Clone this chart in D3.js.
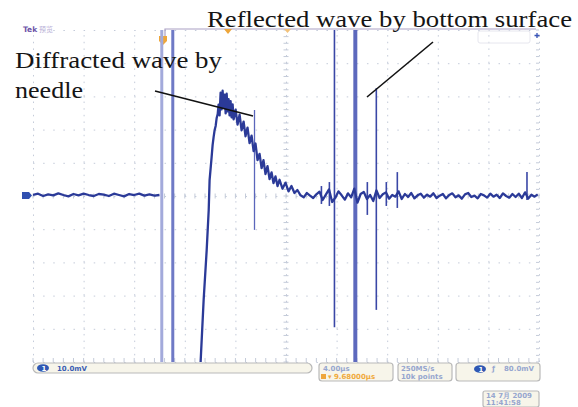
<!DOCTYPE html>
<html>
<head>
<meta charset="utf-8">
<style>
  body { margin: 0; background: #fff; }
  svg { display: block; }
  .grid line { stroke: #c4cbd9; stroke-width: 1; }
  .note { font-family: "Liberation Serif", "Times New Roman", serif; font-size: 23px; fill: #151515; }
  .status text { font-family: "DejaVu Sans", sans-serif; font-size: 7px; font-weight: bold; }
</style>
</head>
<body>
<svg id="scope" width="578" height="407"></svg>
<script src="https://cdn.jsdelivr.net/npm/d3@7"></script>
<script>
// time in microseconds (4.00 us/div), amplitude in mV (10.0 mV/div)
var preTrigger = [[0,0.3],[0.4,0.7],[0.8,0.0],[1.2,0.5],[1.6,0.2],[2.0,0.8],[2.4,0.3],[2.8,-0.1],[3.2,0.6],[3.6,0.2],
  [4.0,0.7],[4.4,0.3],[4.8,0.0],[5.2,0.6],[5.6,0.4],[6.0,0.0],[6.4,0.7],[6.8,0.3],[7.2,-0.1],[7.6,0.6],
  [8.0,0.3],[8.4,0.7],[8.8,0.1],[9.2,0.5],[9.6,0.1],[10.0,0.3]];

var diffracted = [[13.18,-60],[13.25,-50],[13.49,-31.3],[13.73,-16.3],[13.89,-4.2],[13.96,4.8],[14.12,11.7],[14.20,15.4],
  [14.28,17.8],[14.36,19.9],[14.44,21.1],[14.52,23.5],[14.60,24.7],[14.67,27.5],[14.75,24.3],[14.83,31.1],[14.91,26.1],
  [14.99,31.7],[15.07,26.7],[15.15,30.5],[15.23,24.9],[15.31,30.8],[15.38,25.5],[15.46,29.2],[15.54,24.3],[15.62,28.6],
  [15.70,23.7],[15.78,27.6],[15.86,23.1],[16.02,26.0],[16.17,21.5],[16.33,24.5],[16.49,19.8],[16.65,22.4],[16.80,18.0],
  [16.96,20.6],[17.12,15.9],[17.28,18.2],[17.44,13.5],[17.59,15.8],[17.75,10.8],[17.91,12.7],[18.07,8.4],[18.22,10.8],
  [18.38,6.6],[18.54,9.0],[18.70,5.1],[18.86,7.1],[19.01,3.9],[19.17,5.9],[19.33,3.0],[19.49,4.9],[19.72,2.2],[19.96,4.0],
  [20.20,1.4],[20.43,3.0],[20.67,0.9]];

var tail = [[20.90,1.8],[21.15,0.2],[21.40,-0.4],[21.65,0.9],[21.90,0.1],[22.15,-0.6],[22.40,0.5],[22.65,1.3],[22.90,-1.2],
  [23.15,0.4],[23.40,2.0],[23.65,-1.8],[23.90,-0.5],[24.15,1.4],[24.40,0.2],[24.65,-1.1],[24.90,0.8],[25.15,-0.4],
  [25.40,2.2],[25.65,-2.0],[25.90,0.6],[26.15,1.2],[26.40,-0.9],[26.65,0.3],[26.90,-1.5],[27.15,1.7],[27.40,-0.6],
  [27.65,0.5],[27.90,1.1],[28.15,-0.8],[28.40,0.3],[28.65,-0.2],[28.90,1.4],[29.15,-0.9],[29.40,0.6],[29.65,-0.3],
  [29.90,0.9],[30.15,-0.7],[30.40,0.2],[30.65,0.7],[30.90,-0.5],[31.15,0.4],[31.40,-0.2],[31.65,0.8],[31.90,-0.6],
  [32.15,0.1],[32.40,0.6],[32.65,-0.7],[32.90,0.3],[33.15,0.8],[33.40,-0.4],[33.65,0.2],[33.90,-0.8],[34.15,0.5],
  [34.40,0.9],[34.65,-0.3],[34.90,0.1],[35.15,-0.7],[35.40,0.6],[35.65,0.2],[35.90,-0.5],[36.15,0.7],[36.40,-0.2],
  [36.65,0.4],[36.90,-0.6],[37.15,0.8],[37.40,0.0],[37.65,-0.5],[37.90,0.6],[38.15,-0.3],[38.40,0.7],[38.65,-0.6],
  [38.90,1.1],[39.15,-0.8],[39.40,0.4],[39.65,-0.2],[39.90,0.5]];

// spikes: time, top, bottom (mV)
var spikeT  = [10.18, 11.05, 25.48, 17.51, 23.83, 27.14, 22.8, 23.43, 26.43, 27.93, 28.80, 39.05];
var spikeHi = [60, 60, 60, 25.9, 60, 32.5, 3.0, 4.2, 4.2, 4.2, 7.2, 7.2];
var spikeLo = [-60, -60, -60, -10.2, -39.5, -34.3, -2.4, -3.0, -5.7, -3.0, -3.6, -1.2];

var svg = d3.select("#scope");
var x = d3.scaleLinear().domain([0, 40]).range([33, 539]);
var y = d3.scaleLinear().domain([-50, 50]).range([362, 30]);

svg.append("clipPath").attr("id", "screen")
  .append("rect").attr("x", 33).attr("y", 30).attr("width", 506).attr("height", 332);

// graticule
var gx = svg.append("g").attr("class", "grid")
  .attr("transform", "translate(0,362)")
  .call(d3.axisBottom(x).tickValues(d3.range(0, 41, 4)).tickSize(-332).tickFormat(""));
gx.select(".domain").remove();
gx.selectAll("line").attr("stroke-dasharray", "1.5,5.14");

var gy = svg.append("g").attr("class", "grid")
  .attr("transform", "translate(33,0)")
  .call(d3.axisLeft(y).tickValues(d3.range(-50, 51, 10)).tickSize(-506).tickFormat(""));
gy.select(".domain").remove();
gy.selectAll("line").attr("stroke-dasharray", "1.5,8.62");

// minor ticks on centre lines and edges
var minorT = d3.range(0, 40.01, 0.8);
var minorV = d3.range(-50, 50.01, 2);
svg.append("g").attr("class", "grid").selectAll("line").data(minorT).enter().append("line")
  .attr("x1", function(d) { return x(d); }).attr("x2", function(d) { return x(d); })
  .attr("y1", y(0) - 2.5).attr("y2", y(0) + 2.5);
svg.append("g").attr("class", "grid").selectAll("line").data(minorT).enter().append("line")
  .attr("x1", function(d) { return x(d); }).attr("x2", function(d) { return x(d); })
  .attr("y1", 358).attr("y2", 362);
svg.append("g").attr("class", "grid").selectAll("line").data(minorV).enter().append("line")
  .attr("x1", x(20) - 2.5).attr("x2", x(20) + 2.5)
  .attr("y1", function(d) { return y(d); }).attr("y2", function(d) { return y(d); });
svg.append("g").attr("class", "grid").selectAll("line").data(minorV).enter().append("line")
  .attr("x1", x(40) - 3).attr("x2", x(40))
  .attr("y1", function(d) { return y(d); }).attr("y2", function(d) { return y(d); });

// top record bar + markers
svg.append("path").attr("d", "M165,37V29H536").attr("fill", "none").attr("stroke", "#a99fc4").attr("stroke-width", 1.2);
svg.append("path").attr("d", "M159,36h8v5l-4,4l-4,-4z").attr("fill", "#eea63a");
svg.append("path").attr("d", "M224,29h8l-4,5z").attr("fill", "#eea63a");
svg.append("path").attr("d", "M284,29h7l-3.5,4z").attr("fill", "#f2c27a");
svg.append("text").attr("x", 23).attr("y", 32).text("Tek")
  .attr("font-family", "DejaVu Sans").attr("font-size", 7.5).attr("font-weight", "bold").attr("fill", "#6c53a8");
svg.append("text").attr("x", 39).attr("y", 32).text("预览")
  .attr("font-family", "Noto Sans CJK SC").attr("font-size", 7).attr("fill", "#b9b1d8");
svg.append("rect").attr("x", 478).attr("y", 31).attr("width", 52).attr("height", 12).attr("rx", 2)
  .attr("fill", "none").attr("stroke", "#e6e6ee");
svg.append("path").attr("d", "M537,33v5M534.5,35.5h5").attr("stroke", "#3a55b8").attr("stroke-width", 1.3);

// channel 1 ground marker
svg.append("path").attr("d", "M22,192h7l3,3.5l-3,3.5h-7z").attr("fill", "#3150b0");

var plot = svg.append("g").attr("clip-path", "url(#screen)");
var line = d3.line().x(function(d) { return x(d[0]); }).y(function(d) { return y(d[1]); });

// spikes
var spikeColor = ["#a3aadb", "#6f7ac6", "#5d69bd", "#5b66bb"];
var spikeWidth = [3, 3, 4, 1.3];
plot.selectAll(".spike").data(spikeT).enter().append("line").attr("class", "spike")
  .attr("x1", function(d) { return x(d); }).attr("x2", function(d) { return x(d); })
  .attr("y1", function(d, i) { return y(spikeHi[i]); })
  .attr("y2", function(d, i) { return y(spikeLo[i]); })
  .attr("stroke", function(d, i) { return spikeColor[i] || "#3a47a6"; })
  .attr("stroke-width", function(d, i) { return spikeWidth[i] || 1.6; });

// trace
[preTrigger, diffracted.concat(tail)].forEach(function(seg) {
  plot.append("path").datum(seg).attr("d", line)
    .attr("fill", "none").attr("stroke", "#2b3a98").attr("stroke-width", 2.3)
    .attr("stroke-linejoin", "round");
});

// annotations
svg.append("text").attr("class", "note").attr("x", 15).attr("y", 68)
  .attr("textLength", 207).attr("lengthAdjust", "spacingAndGlyphs").text("Diffracted wave by");
svg.append("text").attr("class", "note").attr("x", 15).attr("y", 98)
  .attr("textLength", 68).attr("lengthAdjust", "spacingAndGlyphs").text("needle");
svg.append("text").attr("class", "note").attr("x", 207).attr("y", 27)
  .attr("textLength", 365).attr("lengthAdjust", "spacingAndGlyphs").text("Reflected wave by bottom surface");
svg.append("line").attr("x1", 155).attr("y1", 91).attr("x2", 253).attr("y2", 116)
  .attr("stroke", "#111").attr("stroke-width", 1.6);
svg.append("line").attr("x1", 433).attr("y1", 42).attr("x2", 367).attr("y2", 97)
  .attr("stroke", "#111").attr("stroke-width", 1.6);

// status readouts
var st = svg.append("g").attr("class", "status");
function box(x0, y0, w, h, r) {
  st.append("rect").attr("x", x0).attr("y", y0).attr("width", w).attr("height", h).attr("rx", r)
    .attr("fill", "#f7f5ea").attr("stroke", "#b9b9b9").attr("stroke-width", 1.2);
}
box(33, 363, 279, 10, 5);
box(319, 363, 74, 18, 3);
box(398, 363, 54, 18, 3);
box(456, 363, 84, 18, 3);
box(483, 391, 56, 16, 2);
st.append("ellipse").attr("cx", 43).attr("cy", 368).attr("rx", 6).attr("ry", 3.8).attr("fill", "#2f58b4");
st.append("text").attr("x", 41.5).attr("y", 370.5).text("1").attr("fill", "#fff").attr("font-size", 6);
st.append("text").attr("x", 57).attr("y", 371).text("10.0mV").attr("fill", "#3b5db3");
st.append("text").attr("x", 323).attr("y", 371).text("4.00μs").attr("fill", "#96a6cf");
st.append("rect").attr("x", 321).attr("y", 374).attr("width", 5).attr("height", 5).attr("fill", "#eea63a");
st.append("text").attr("x", 328).attr("y", 379).text("▾ 9.68000μs").attr("fill", "#f0aa3c");
st.append("text").attr("x", 401).attr("y", 371).text("250MS/s").attr("fill", "#96a6cf");
st.append("text").attr("x", 401).attr("y", 379).text("10k points").attr("fill", "#96a6cf");
st.append("ellipse").attr("cx", 480).attr("cy", 369).attr("rx", 6).attr("ry", 3.8).attr("fill", "#2f58b4");
st.append("text").attr("x", 478.5).attr("y", 371.5).text("1").attr("fill", "#fff").attr("font-size", 6);
st.append("text").attr("x", 492).attr("y", 371).text("ƒ").attr("fill", "#96a6cf");
st.append("text").attr("x", 504).attr("y", 371).text("80.0mV").attr("fill", "#96a6cf");
st.append("text").attr("x", 486).attr("y", 398).text("14 7月  2009").attr("fill", "#96a6cf")
  .attr("font-family", "Noto Sans CJK SC").attr("font-weight", "normal").attr("font-size", 6.5);
st.append("text").attr("x", 486).attr("y", 405).text("11:41:58").attr("fill", "#96a6cf")
  .attr("font-weight", "normal").attr("font-size", 6.5);
</script>
</body>
</html>
